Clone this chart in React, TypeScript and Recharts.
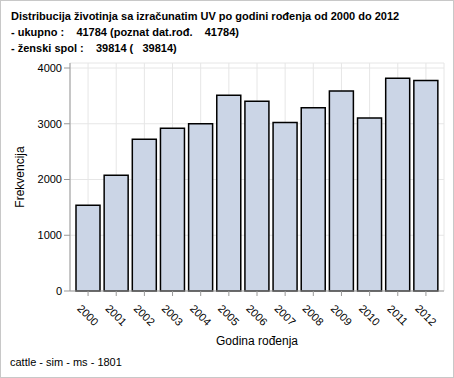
import { BarChart, Bar, XAxis, YAxis, CartesianGrid } from 'recharts';

const years = ['2000', '2001', '2002', '2003', '2004', '2005', '2006', '2007', '2008', '2009', '2010', '2011', '2012'];
const counts = [1540, 2077, 2722, 2918, 3001, 3509, 3402, 3021, 3289, 3587, 3103, 3814, 3778];
const yTicks = [0, 1000, 2000, 3000, 4000];

const titleLines = [
  'Distribucija životinja sa izračunatim UV po godini rođenja od 2000 do 2012',
  '- ukupno :    41784 (poznat dat.rođ.    41784)',
  '- ženski spol :    39814 (   39814)',
];

const data = years.map((year, i) => ({ year, count: counts[i] }));

const font = '"Liberation Sans", Arial, sans-serif';

function YearTick(props: any) {
  const { x, y, payload } = props;
  return (
    <g transform={`translate(${x},${y + 17})`}>
      <text textAnchor="middle" dy={4} transform="rotate(45)" fontSize={11} fill="#000" fontFamily={font}>
        {payload.value}
      </text>
    </g>
  );
}

export default function App() {
  return (
    <div
      style={{
        position: 'absolute',
        left: 0,
        top: 0,
        width: 454,
        height: 378,
        border: '1px solid #c8c8c8',
        boxSizing: 'border-box',
        background: '#fff',
        fontFamily: font,
      }}
    >
      <div style={{ position: 'absolute', left: 10, top: 7, fontSize: 11, fontWeight: 'bold', lineHeight: '16px', whiteSpace: 'pre' }}>
        {titleLines.map((t) => (
          <div key={t}>{t}</div>
        ))}
      </div>
      <div style={{ position: 'absolute', left: 9, top: 355, fontSize: 11, whiteSpace: 'pre' }}>cattle - sim - ms - 1801</div>
      <div style={{ position: 'absolute', left: -1, top: -1 }}>
        <BarChart width={454} height={378} data={data} margin={{ top: 63, right: 10, bottom: 27, left: 0 }} barSize={24}>
          <CartesianGrid stroke="#e6e6e6" />
          <XAxis
            dataKey="year"
            stroke="#999"
            tickSize={5}
            tick={<YearTick />}
            interval={0}
            padding={{ left: 4, right: 4 }}
            height={60}
            label={{ value: 'Godina rođenja', position: 'insideBottom', offset: 6, fontSize: 12, fill: '#000', fontFamily: font }}
          />
          <XAxis xAxisId="top" orientation="top" dataKey="year" stroke="#999" tick={false} tickLine={false} height={0} />
          <YAxis
            domain={[0, 4000]}
            ticks={yTicks}
            stroke="#999"
            tickSize={6}
            width={70}
            padding={{ top: 5 }}
            tick={{ fontSize: 11, fill: '#000', fontFamily: font }}
            label={{ value: 'Frekvencija', angle: -90, position: 'insideLeft', offset: 20, fontSize: 12, fill: '#000', fontFamily: font, style: { textAnchor: 'middle' } }}
          />
          <YAxis yAxisId="right" orientation="right" stroke="#999" tick={false} tickLine={false} width={0} />
          <Bar dataKey="count" fill="#cbd5e6" stroke="#000" strokeWidth={1.5} isAnimationActive={false} />
        </BarChart>
      </div>
    </div>
  );
}
